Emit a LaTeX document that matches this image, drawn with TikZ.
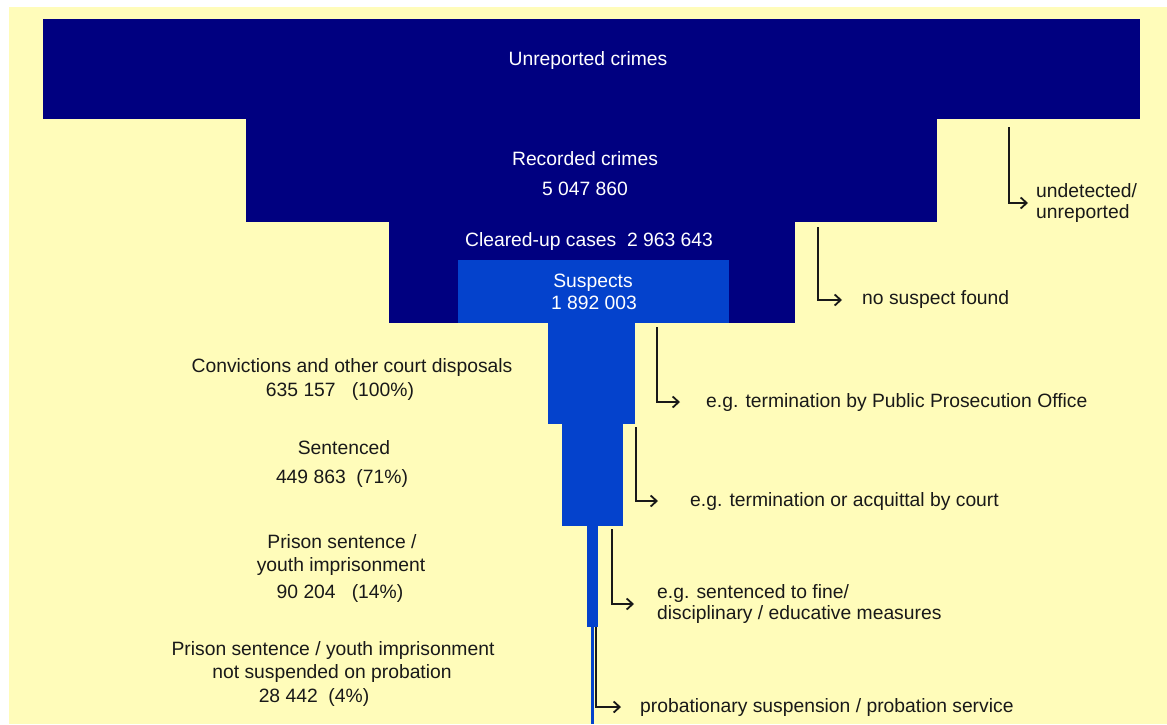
\documentclass[tikz,border=0pt]{standalone}
\usepackage{fontspec}
\setmainfont{Liberation Sans}
\usetikzlibrary{arrows.meta}
\definecolor{funnelbg}{RGB}{255,252,186}
\definecolor{navy}{RGB}{0,0,128}
\definecolor{barblue}{RGB}{4,66,204}
\tikzset{
  whitetxt/.style={text=white, inner sep=0pt, anchor=base},
  blacktxt/.style={text=black!90, inner sep=0pt, anchor=base},
  sidetxt/.style={text=black!90, inner sep=0pt, anchor=west, align=left},
  drop/.style={-{Straight Barb[length=6pt,width=11pt,line width=1.8pt]}, line width=1.8pt, black!90},
}
\begin{document}
\begin{tikzpicture}[x=1pt,y=-1pt,font=\fontsize{19.3}{21.5}\selectfont]
    \useasboundingbox (0,0) rectangle (1167,724);
    \fill [funnelbg] (9,7) rectangle (1167,724);
    % funnel
    \fill [navy] (43,19) rectangle (1140,119);
    \fill [navy] (246,119) rectangle (937,222);
    \fill [navy] (389,222) rectangle (795,323);
    \fill [barblue] (458,260) rectangle (729,323);
    \fill [barblue] (548,323) rectangle (635,424);
    \fill [barblue] (562,424) rectangle (623,526);
    \fill [barblue] (587,526) rectangle (598,627);
    \fill [barblue] (591,627) rectangle (594,724);
    % labels in the funnel
    \node [whitetxt] (unrep) at (588,65) {Unreported crimes};
    \node [whitetxt] (rec) at (585,165) {Recorded crimes};
    \node [whitetxt] (recnum) at (585,195) {5 047 860};
    \node [whitetxt] (clear) at (589,246) {Cleared-up cases\ \ 2 963 643};
    \node [whitetxt] (susp) at (593,287) {Suspects};
    \node [whitetxt] (suspnum) at (594,309) {1 892 003};
    % labels on the left
    \node [blacktxt] (conv) at (352,372) {Convictions and other court disposals};
    \node [blacktxt] (convnum) at (340,396) {635 157\ \ \ (100\%)};
    \node [blacktxt] (sent) at (344,454) {Sentenced};
    \node [blacktxt] (sentnum) at (342,483) {449 863\ \ (71\%)};
    \node [blacktxt] (prison) at (342,548) {Prison sentence /};
    \node [blacktxt] (youth) at (341,571) {youth imprisonment};
    \node [blacktxt] (prisonnum) at (340,598) {90 204\ \ \ (14\%)};
    \node [blacktxt] (uncond) at (333,655) {Prison sentence / youth imprisonment};
    \node [blacktxt] (notprob) at (332,678) {not suspended on probation};
    \node [blacktxt] (uncondnum) at (314,702) {28 442\ \ (4\%)};
    % drop-outs on the right
    \node [sidetxt] (undet) at (1036,203) {undetected/\\unreported};
    \node [sidetxt] (nosusp) at (862,300) {no suspect found};
    \node [sidetxt] (ppo) at (706,402) {e.g. termination by Public Prosecution Office};
    \node [sidetxt] (acquit) at (690,501) {e.g. termination or acquittal by court};
    \node [sidetxt] (fine) at (657,604) {e.g. sentenced to fine/\\disciplinary / educative measures};
    \node [sidetxt] (probat) at (640,707) {probationary suspension / probation service};
    \coordinate (d1) at (1009,127);
    \coordinate (d2) at (818,227);
    \coordinate (d3) at (657,327);
    \coordinate (d4) at (636,427);
    \coordinate (d5) at (612,529);
    \coordinate (d6) at (596,627);
    \draw [drop,shorten >=8pt] (d1) |- (undet.west);
    \draw [drop,shorten >=20pt] (d2) |- (nosusp.west);
    \draw [drop,shorten >=26pt] (d3) |- (ppo.west);
    \draw [drop,shorten >=32pt] (d4) |- (acquit.west);
    \draw [drop,shorten >=23pt] (d5) |- (fine.west);
    \draw [drop,shorten >=19pt] (d6) |- (probat.west);
\end{tikzpicture}
\end{document}
